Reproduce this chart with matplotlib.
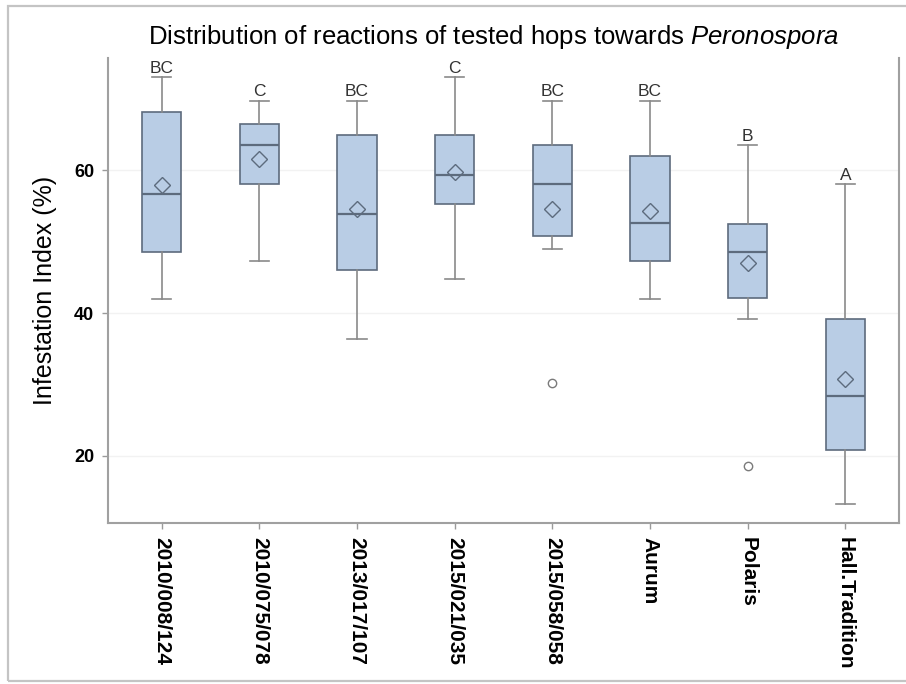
import matplotlib
matplotlib.use('Agg')
import matplotlib.pyplot as plt
from matplotlib.patches import Rectangle

plt.rcParams['font.family'] = ['Liberation Sans', 'DejaVu Sans']
plt.rcParams['mathtext.fontset'] = 'custom'
plt.rcParams['mathtext.it'] = 'Liberation Sans:italic'
plt.rcParams['mathtext.rm'] = 'Liberation Sans'

# hop lines and their box statistics (infestation index, %)
lines = ['2010/008/124', '2010/075/078', '2013/017/107', '2015/021/035',
         '2015/058/058', 'Aurum', 'Polaris', 'Hall.Tradition']
whis_low = [42.0, 47.3, 36.4, 44.7, 48.9, 42.0, 39.1, 13.2]
q1 = [48.6, 58.0, 46.0, 55.2, 50.8, 47.3, 42.1, 20.8]
medians = [56.6, 63.5, 53.9, 59.3, 58.0, 52.6, 48.6, 28.4]
q3 = [68.2, 66.5, 64.9, 64.9, 63.5, 62.0, 52.5, 39.1]
whis_high = [73.0, 69.7, 69.7, 73.0, 69.7, 69.7, 63.5, 58.0]
means = [57.9, 61.6, 54.5, 59.8, 54.5, 54.3, 47.0, 30.7]
outliers = [[], [], [], [], [30.2], [], [18.6], []]
groups = ['BC', 'C', 'BC', 'C', 'BC', 'BC', 'B', 'A']

stats = []
for i in range(len(lines)):
    stats.append({'label': lines[i], 'whislo': whis_low[i], 'q1': q1[i],
                  'med': medians[i], 'q3': q3[i], 'whishi': whis_high[i],
                  'mean': means[i], 'fliers': outliers[i]})

fig = plt.figure(figsize=(9.06, 6.84), dpi=100)
ax = fig.add_axes([108 / 906, 1 - 523 / 684, (899 - 108) / 906, (523 - 58) / 684])

line_col = '#8a8a8a'
edge_col = '#5d6b7d'
ax.bxp(stats, positions=range(len(lines)), widths=0.4, patch_artist=True,
       showmeans=True, showfliers=True,
       boxprops=dict(facecolor='#b9cde5', edgecolor=edge_col, linewidth=1.2),
       medianprops=dict(color=edge_col, linewidth=1.6),
       whiskerprops=dict(color=line_col, linewidth=1.2),
       capprops=dict(color=line_col, linewidth=1.2),
       capwidths=0.2,
       meanprops=dict(marker='D', markerfacecolor='none', markeredgecolor=edge_col,
                      markersize=8, markeredgewidth=1.0),
       flierprops=dict(marker='o', markerfacecolor='none', markeredgecolor='#7a7a7a',
                       markersize=6, markeredgewidth=1.0))

# significance letters above the upper whiskers
for i, g in enumerate(groups):
    ax.annotate(g, (i, whis_high[i]), xytext=(0, 1), textcoords='offset points',
                ha='center', va='bottom', fontsize=12.5, color='#333333')

ax.set_xlim(-0.55, 7.55)
ax.set_ylim(10.6, 75.7)
ax.set_yticks([20, 40, 60])
ax.yaxis.grid(True, color='#f2f2f2', linewidth=1.0)
ax.set_axisbelow(True)

ax.set_xticks(range(len(lines)))
ax.set_xticklabels(lines, rotation=-90, fontsize=15, fontweight='bold')
for lab in ax.get_yticklabels():
    lab.set_fontsize(13)
    lab.set_fontweight('bold')
ax.tick_params(axis='both', color='#9a9a9a', length=4, width=1.0, pad=6)
ax.set_ylabel('Infestation Index (%)', fontsize=18, labelpad=12)

for side in ['left', 'bottom', 'right']:
    ax.spines[side].set_color('#a0a0a0')
    ax.spines[side].set_linewidth(1.5)
ax.spines['top'].set_visible(False)

fig.text(494 / 906, 1 - 37 / 684,
         'Distribution of reactions of tested hops towards $\\it{Peronospora}$',
         ha='center', va='center', fontsize=18.5)

# light frame round the figure
fig.add_artist(Rectangle((8 / 906, 1 - 681 / 684), 1.0, (681 - 6) / 684,
                         transform=fig.transFigure, fill=False,
                         edgecolor='#c4c4c4', linewidth=1.6))

fig.savefig('out.png', dpi=100)
